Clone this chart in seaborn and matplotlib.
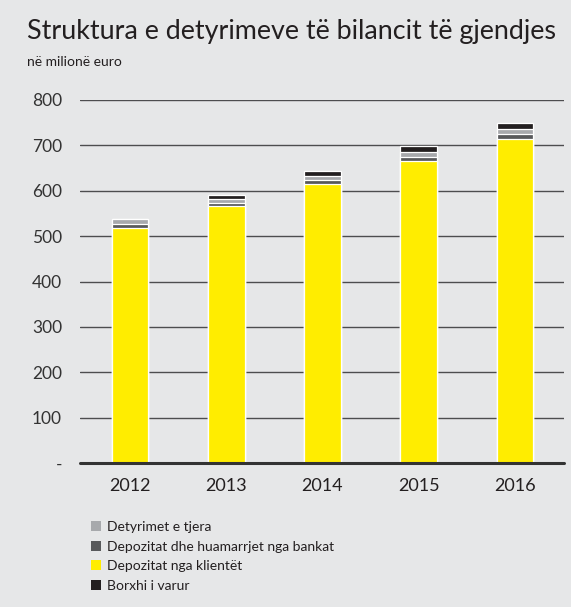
import matplotlib
matplotlib.use("Agg")
import matplotlib.pyplot as plt
from matplotlib.patches import Patch, Rectangle
import numpy as np
import pandas as pd
import seaborn as sns

# Liabilities structure, million euro
years = ["2012", "2013", "2014", "2015", "2016"]
depozitat_klientet = [519, 566, 615, 666, 715]
depozitat_bankat = [8, 7, 8, 9, 10]
detyrimet_tjera = [11, 9, 10, 11, 12]
borxhi_varur = [0, 9, 11, 12, 13]

series_labels = [
    "Depozitat nga klientët",
    "Depozitat dhe huamarrjet nga bankat",
    "Detyrimet e tjera",
    "Borxhi i varur",
]
series_values = [depozitat_klientet, depozitat_bankat, detyrimet_tjera, borxhi_varur]
series_colors = ["#ffed00", "#58595b", "#a7a9ac", "#231f20"]
legend_order = [2, 1, 0, 3]

y_ticks = [0, 100, 200, 300, 400, 500, 600, 700, 800]
y_ticklabels = ["-", "100", "200", "300", "400", "500", "600", "700", "800"]

BG = "#e6e7e8"
TXT = "#231f20"

sns.set_theme(style="white")
plt.rcParams["font.family"] = ["Lato", "DejaVu Sans"]

fig = plt.figure(figsize=(5.76, 6.13), dpi=100, facecolor="white")
fig.patches.append(Rectangle((0, 6 / 613), 571 / 576, 1, transform=fig.transFigure,
                             facecolor=BG, edgecolor="none", zorder=-10))

ax = fig.add_axes([80 / 576, 1 - 463 / 613, 484 / 576, 363 / 613])
ax.set_facecolor(BG)
ax.patch.set_alpha(0)

# cumulative stacks, drawn from the tallest down so each segment sits on the one below
cum = np.cumsum(np.array(series_values), axis=0)
for i in range(len(series_values) - 1, -1, -1):
    df = pd.DataFrame({"year": years, "value": cum[i]})
    sns.barplot(data=df, x="year", y="value", order=years, color=series_colors[i],
                saturation=1, width=0.38, edgecolor="white", linewidth=0.9,
                errorbar=None, ax=ax, zorder=3)

ax.set_xlim(-0.52, 4.51)
ax.set_ylim(0, 800)
ax.set_yticks(y_ticks)
ax.set_yticklabels(y_ticklabels)
ax.set_xlabel("")
ax.set_ylabel("")
ax.yaxis.grid(True, color="#4d4d4f", linewidth=1.0)
ax.set_axisbelow(True)
for s in ax.spines.values():
    s.set_visible(False)
ax.axhline(0, color="#333333", linewidth=2.2, zorder=4, clip_on=False)
ax.tick_params(axis="y", length=0, pad=13, labelsize=12.5, labelcolor="#333333")
ax.tick_params(axis="x", length=0, pad=11, labelsize=13, labelcolor=TXT)

fig.text(27 / 576, 1 - 39 / 613, "Struktura e detyrimeve të bilancit të gjendjes",
         fontsize=19.4, color=TXT, ha="left", va="baseline")
fig.text(27 / 576, 1 - 66 / 613, "në milionë euro", fontsize=10, color=TXT,
         ha="left", va="baseline")

handles = [Patch(facecolor=series_colors[i], edgecolor="none") for i in legend_order]
labels = [series_labels[i] for i in legend_order]
fig.legend(handles, labels, loc="upper left", bbox_to_anchor=(84 / 576, 1 - 514 / 613),
           frameon=False, fontsize=10, handlelength=0.75, handleheight=0.75,
           handletextpad=0.4, labelspacing=0.55, borderpad=0, labelcolor=TXT)

fig.savefig("out.png", dpi=100, facecolor=fig.get_facecolor())
